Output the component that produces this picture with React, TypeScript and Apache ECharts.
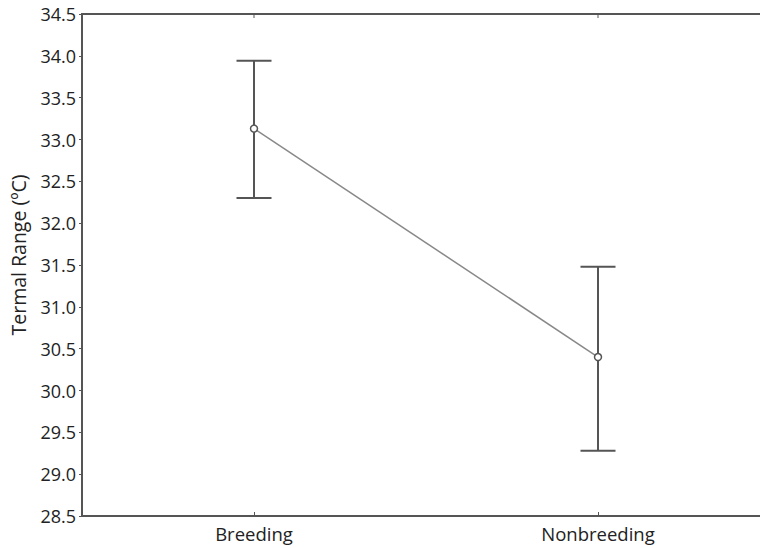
import React, { useEffect, useRef } from "react";
import * as echarts from "echarts";

const categories = ["Breeding", "Nonbreeding"];
const means = [33.13, 30.4];
const upper = [33.94, 31.48];
const lower = [32.3, 29.28];
const yMin = 28.5;
const yMax = 34.5;
const yInterval = 0.5;

export default function App() {
  const ref = useRef<HTMLDivElement>(null);
  useEffect(() => {
    if (!ref.current) return;
    const chart = echarts.init(ref.current, undefined, { renderer: "svg" });
    const font = "'Open Sans', 'Noto Sans', sans-serif";
    const axisColor = "#555";
    chart.setOption({
      animation: false,
      grid: { left: 82, top: 14, width: 688, height: 502, outerBoundsMode: "none", containLabel: false },
      xAxis: {
        type: "category",
        data: categories,
        boundaryGap: true,
        axisLine: { show: true, lineStyle: { color: axisColor, width: 2 } },
        axisTick: { show: true, inside: true, alignWithLabel: true, length: 4, lineStyle: { color: axisColor } },
        axisLabel: { color: "#222", fontSize: 18.5, fontFamily: font, margin: 8 },
        splitLine: { show: false },
      },
      yAxis: {
        type: "value",
        min: yMin,
        max: yMax,
        interval: yInterval,
        name: "Termal Range (ºC)",
        nameLocation: "middle",
        nameGap: 54,
        nameTextStyle: { color: "#222", fontSize: 19.5, fontFamily: font, padding: [0, 0, 0, 20] },
        axisLine: { show: true, lineStyle: { color: axisColor, width: 2 } },
        axisTick: { show: true, length: 3, lineStyle: { color: axisColor } },
        axisLabel: {
          color: "#222",
          fontSize: 18,
          fontFamily: font,
          margin: 6,
          formatter: (v: number) => v.toFixed(1),
        },
        splitLine: { show: false },
      },
      series: [
        {
          type: "custom",
          z: 2,
          data: categories.map((_, i) => [i, lower[i], upper[i]]),
          renderItem: (params: any, api: any) => {
            const x = api.value(0);
            const lo = api.coord([x, api.value(1)]);
            const hi = api.coord([x, api.value(2)]);
            const hw = 17.5;
            const style = { stroke: axisColor, lineWidth: 2 };
            return {
              type: "group",
              children: [
                { type: "line", shape: { x1: lo[0], y1: lo[1], x2: hi[0], y2: hi[1] }, style },
                { type: "line", shape: { x1: hi[0] - hw, y1: hi[1], x2: hi[0] + hw, y2: hi[1] }, style },
                { type: "line", shape: { x1: lo[0] - hw, y1: lo[1], x2: lo[0] + hw, y2: lo[1] }, style },
              ],
            };
          },
        },
        {
          type: "line",
          z: 3,
          data: means,
          symbol: "circle",
          symbolSize: 7,
          lineStyle: { color: "#888", width: 1.5 },
          itemStyle: { color: "#fff", borderColor: "#555", borderWidth: 1.5 },
        },
      ],
    });
    const yTop = chart.convertToPixel({ yAxisIndex: 0 }, yMax) as number;
    const tickXs = categories.map((_, i) => chart.convertToPixel({ xAxisIndex: 0 }, i) as number);
    chart.setOption({
      graphic: [
        {
          type: "line",
          shape: { x1: 81, y1: yTop, x2: 800, y2: yTop },
          style: { stroke: axisColor, lineWidth: 2 },
          z: 60,
          silent: true,
        },
        ...tickXs.map((tx) => ({
          type: "line",
          shape: { x1: tx, y1: yTop, x2: tx, y2: yTop + 4 },
          style: { stroke: axisColor, lineWidth: 1 },
          z: 60,
          silent: true,
        })),
      ],
    });
    return () => chart.dispose();
  }, []);
  return (
    <div style={{ position: "absolute", left: 0, top: 0, width: 760, height: 548, overflow: "hidden" }}>
      <div ref={ref} style={{ position: "absolute", left: 0, top: 0, width: 760, height: 548 }} />
      <div
        style={{
          position: "absolute",
          left: 738,
          top: 16,
          width: 22,
          height: 498,
          background: "#fff",
          pointerEvents: "none",
        }}
      />
    </div>
  );
}
